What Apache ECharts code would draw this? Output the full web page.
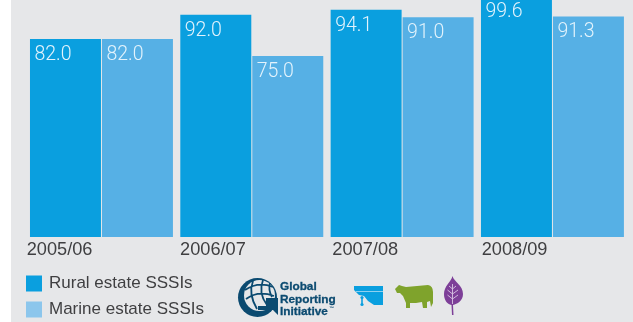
<!DOCTYPE html>
<html>
<head>
<meta charset="utf-8">
<style>html,body{margin:0;padding:0;background:#fff}#chart{width:633px;height:322px}</style>
<script src="https://cdn.jsdelivr.net/npm/echarts@6/dist/echarts.min.js"></script>
</head>
<body>
<div id="chart"></div>
<script>
const years = ['2005/06', '2006/07', '2007/08', '2008/09'];
const ruralEstate = [82.0, 92.0, 94.1, 99.6];
const marineEstate = [82.0, 75.0, 91.0, 91.3];

const RURAL = '#0a9fdf';
const MARINE = '#56b0e5';
const MARINE_KEY = '#8cc6ec';
const PANEL = '#e6e7e9';
const INK = '#3f3f41';
const GRI = '#0b4a70';
const FONT = '"Liberation Sans", Arial, sans-serif';

// Year captions hang off the left edge of each pair of bars.
const yearInsets = [9, 6, 4, 5];

const valueLabel = {
  show: true,
  position: 'insideTopLeft',
  distance: 0,
  offset: [4.5, 6],
  formatter: p => p.value.toFixed(1),
  color: '#e3f3fc',
  fontFamily: 'Roboto, ' + FONT,
  fontSize: 19.5,
  fontWeight: 300
};

// Registers an SVG path as a graphic element type and returns an element using it.
let shapeCount = 0;
function svgPath(d, style) {
  const name = 'iconShape' + (shapeCount++);
  echarts.graphic.registerShape(name, echarts.graphic.extendPath(d, {}));
  return { type: name, style };
}

const logoText = (text, y) => ({
  type: 'text',
  style: { x: 280, y, text, fill: GRI, stroke: GRI, lineWidth: 0.3, font: 'bold 11.8px ' + FONT, verticalAlign: 'middle' }
});

const logoMark = [
  // Crescent of the globe, heavier on the left and along the bottom.
  { type: 'circle', shape: { cx: 257.5, cy: 297.5, r: 19.5 }, style: { fill: GRI } },
  { type: 'circle', shape: { cx: 259.5, cy: 295.5, r: 15.5 }, style: { fill: PANEL } },
  svgPath('M245 290 Q258 281 273 287 M246 299 Q258 290 274 296 M253 281 Q248 294 257 309 M263 280 Q258 293 267 305 M270 283 Q268 290 272 297', { fill: 'none', stroke: GRI, lineWidth: 1.8 }),
  // Arrow closing the globe into a G.
  { type: 'polygon', shape: { points: [[266, 298], [278, 298], [278, 315], [273, 310], [258, 310], [258, 306], [266, 306]] }, style: { fill: GRI } },
  logoText('Global', 287),
  logoText('Reporting', 299.5),
  logoText('Initiative', 312),
  { type: 'text', style: { x: 329, y: 309, text: '™', fill: GRI, font: 'bold 5px ' + FONT, verticalAlign: 'middle' } }
];

const waterIcon = [
  { type: 'polygon', shape: { points: [[354, 286], [383, 286], [383, 305], [374, 305], [368, 301], [364, 296], [359, 295], [354, 290]] }, style: { fill: RURAL } },
  { type: 'rect', shape: { x: 356, y: 291, width: 27, height: 1 }, style: { fill: '#8fd0ef' } },
  { type: 'circle', shape: { cx: 362, cy: 297.5, r: 1.6 }, style: { fill: RURAL } },
  { type: 'rect', shape: { x: 361.2, y: 298, width: 1.6, height: 7 }, style: { fill: RURAL } },
  { type: 'circle', shape: { cx: 362, cy: 304.5, r: 1.6 }, style: { fill: RURAL } }
];

const cowIcon = [
  svgPath('M395 289 L399 285 L402 286 L406 287 L428 285 Q433 286 433 292 L433 303 L431 307 L430 301 L427 302 L427 308 L423 308 L422 302 L416 303 L410 303 L410 308 L406 308 L406 303 L403 296 L400 293 L397 293 Z', { fill: '#7fa32c' })
];

const leafIcon = [
  svgPath('M452.5 276 C454 282 463 285 463 294 C463 301 457 304 453 305 L453.5 315 L452 315 L451.5 305 C447 304 444 300 444 294 C444 286 451 282 452.5 276 Z', { fill: '#7d3f98' }),
  svgPath('M452.5 284 L452.5 304 M452.5 289 L449 286 M452.5 289 L456 286 M452.5 294 L447.5 290 M452.5 294 L458 290 M452.5 299 L447.5 295 M452.5 299 L458 295', { fill: 'none', stroke: '#d9c5e3', lineWidth: 0.9 })
];

const chart = echarts.init(document.getElementById('chart'), null, { renderer: 'canvas' });
chart.setOption({
  animation: false,
  backgroundColor: '#ffffff',
  graphic: [
    { type: 'rect', z: -10, silent: true, shape: { x: 11, y: 0, width: 622, height: 322 }, style: { fill: PANEL } },
    ...logoMark, ...waterIcon, ...cowIcon, ...leafIcon
  ],
  legend: {
    orient: 'vertical',
    left: 26,
    top: 275,
    itemWidth: 16,
    itemHeight: 16,
    itemGap: 9,
    padding: 0,
    icon: 'rect',
    textStyle: { color: INK, fontFamily: FONT, fontSize: 17, padding: [1, 0, 0, 2] },
    data: [
      { name: 'Rural estate SSSIs', itemStyle: { color: RURAL } },
      { name: 'Marine estate SSSIs', itemStyle: { color: MARINE_KEY } }
    ]
  },
  // The tallest bar runs off the top edge of the panel.
  grid: { left: 26.3, right: 5.4, top: -4.5, height: 241.5, outerBoundsMode: 'none' },
  xAxis: {
    type: 'category',
    data: years.map((y, i) => ({ value: y, textStyle: { align: 'right', padding: [0, yearInsets[i], 0, 0] } })),
    axisLine: { show: false },
    axisTick: { show: false },
    axisLabel: {
      margin: 4,
      color: INK,
      fontFamily: FONT,
      fontSize: 18.2
    }
  },
  yAxis: { type: 'value', min: 0, max: 100, show: false },
  series: [
    { name: 'Rural estate SSSIs', type: 'bar', data: ruralEstate, barCategoryGap: '4.9%', barGap: '1.4%', clip: false, itemStyle: { color: RURAL }, label: valueLabel },
    { name: 'Marine estate SSSIs', type: 'bar', data: marineEstate, clip: false, itemStyle: { color: MARINE }, label: valueLabel }
  ]
});
</script>
</body>
</html>
